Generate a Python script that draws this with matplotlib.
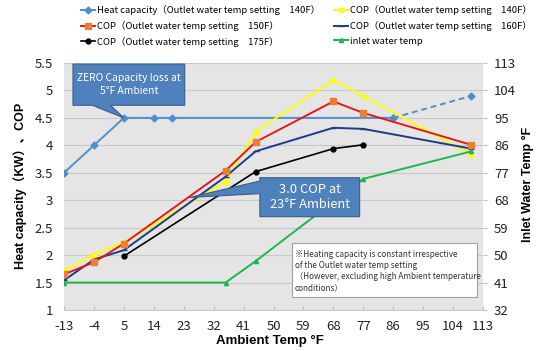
import matplotlib
matplotlib.use("Agg")
import matplotlib.pyplot as plt
from matplotlib.patches import Polygon, Rectangle

plt.rcParams['font.family'] = ['Noto Sans CJK JP', 'DejaVu Sans']
BOLD = ['Liberation Sans', 'Noto Sans CJK JP', 'DejaVu Sans']

# ---- data ----
x_ticks = [-13, -4, 5, 14, 23, 32, 41, 50, 59, 68, 77, 86, 95, 104, 113]
left_ticks = [1, 1.5, 2, 2.5, 3, 3.5, 4, 4.5, 5, 5.5]
left_tick_labels = ['1', '1.5', '2', '2.5', '3', '3.5', '4', '4.5', '5', '5.5']
right_ticks = [32, 41, 50, 59, 68, 77, 86, 95, 104, 113]

hc_x = [-13, -4, 5, 14, 19.4, 86]
hc_y = [3.5, 4.0, 4.5, 4.5, 4.5, 4.5]
hc_dash_x = [86, 109.4]
hc_dash_y = [4.5, 4.9]

cop140_x = [-13, -4, 5, 35.6, 44.6, 68, 77, 109.4]
cop140_y = [1.72, 2.01, 2.23, 3.34, 4.25, 5.19, 4.90, 3.83]

cop150_x = [-13, -4, 5, 35.6, 44.6, 68, 77, 109.4]
cop150_y = [1.65, 1.87, 2.21, 3.54, 4.06, 4.80, 4.59, 4.01]

cop160_x = [-13, -4, 5, 35.6, 44.6, 68, 77, 109.4]
cop160_y = [1.54, 1.92, 2.09, 3.43, 3.89, 4.32, 4.30, 3.94]

cop175_x = [5, 44.6, 68, 77]
cop175_y = [1.98, 3.52, 3.94, 4.01]

inlet_x = [-13, 35.6, 44.6, 77, 109.4]
inlet_y = [41, 41, 48, 75, 84]

labels = ["Heat capacity（Outlet water temp setting　140F）",
          "COP（Outlet water temp setting　140F）",
          "COP（Outlet water temp setting　150F）",
          "COP（Outlet water temp setting　160F）",
          "COP（Outlet water temp setting　175F）",
          "inlet water temp"]

c_hc = '#4f8fd0'
c_140 = '#ffff00'
c_150 = '#e3191c'
c_150m = '#ed7d31'
c_160 = '#1f3a8a'
c_175 = '#000000'
c_in = '#1db64f'

fig = plt.figure(figsize=(5.5, 3.51), dpi=100)
ax = fig.add_axes([64/550, 1-310/351, (483-64)/550, (310-63)/351])
ax.set_facecolor('#e5e5e5')
ax.set_xlim(-13, 113)
ax.set_ylim(1, 5.5)
ax.set_yticks(left_ticks)
ax.set_yticklabels(left_tick_labels)
ax.set_xticks(x_ticks)
ax.set_xticklabels([str(v) for v in x_ticks])
ax.grid(axis='y', color='#c9c9c9', lw=0.8)
ax.set_axisbelow(True)
for s in ['top', 'right', 'left']:
    ax.spines[s].set_visible(False)
ax.spines['bottom'].set_color('#c9c9c9')
ax.tick_params(axis='x', length=3, direction='in', color='#c0c0c0', labelsize=9.5, pad=7,
               labelcolor='#222222')
ax.tick_params(axis='y', length=0, labelsize=9.5, pad=8, labelcolor='#222222')

ax2 = ax.twinx()
ax2.set_ylim(32, 113)
ax2.set_yticks(right_ticks)
ax2.set_yticklabels([str(v) for v in right_ticks])
for s in ['top', 'right', 'left', 'bottom']:
    ax2.spines[s].set_visible(False)
ax2.tick_params(axis='y', length=3, color='#c0c0c0', labelsize=9.5, pad=5, labelcolor='#222222')

# series
h_hc, = ax.plot(hc_x, hc_y, color=c_hc, lw=1.4, marker='D', ms=3.5, zorder=3)
ax.plot(hc_dash_x, hc_dash_y, color=c_hc, lw=1.4, ls=(0, (3, 2)), marker='D', ms=3.5, zorder=3)
h_140, = ax.plot(cop140_x, cop140_y, color=c_140, lw=1.4, marker='s', ms=3, zorder=4)
h_150, = ax.plot(cop150_x, cop150_y, color=c_150, lw=1.4, marker='s', ms=4.5,
                 mfc=c_150m, mec=c_150m, zorder=5)
h_160, = ax.plot(cop160_x, cop160_y, color=c_160, lw=1.4, marker='_', ms=4, zorder=4)
h_175, = ax.plot(cop175_x, cop175_y, color=c_175, lw=1.2, marker='o', ms=3.5, zorder=4)
h_in, = ax2.plot(inlet_x, inlet_y, color=c_in, lw=1.4, marker='^', ms=3, zorder=4)

# axis labels
fig.text(20/550, 1-186/351, "Heat capacity（KW）、COP", rotation=90, ha='center', va='center',
         fontsize=9, fontweight='bold', family=BOLD)
fig.text(528/550, 1-184/351, "Inlet Water Temp °F", rotation=90, ha='center', va='center',
         fontsize=9, fontweight='bold', family=BOLD)
fig.text(270/550, 1-341/351, "Ambient Temp °F", ha='center', va='center',
         fontsize=9.5, fontweight='bold', family=BOLD)

# legend
handles = [h_hc, h_150, h_175, h_140, h_160, h_in]
leg_labels = [labels[0], labels[2], labels[4], labels[1], labels[3], labels[5]]
fig.legend(handles, leg_labels, ncol=2, loc='upper left', bbox_to_anchor=(76/550, 1.0),
           frameon=False, fontsize=6.8, handlelength=1.5, handletextpad=0.15,
           columnspacing=1.5, labelspacing=0.6, borderaxespad=0.15)

# callout 1 (drawn on top axes, in left-axis data coordinates)
box_c = '#4f81bd'
edge_c = '#385d8a'
ax2.add_patch(Polygon([(-10.3, 4.73), (-10.3, 5.48), (23.3, 5.48), (23.3, 4.73),
                       (1.0, 4.73), (5, 4.5), (-4.5, 4.73)], closed=True,
                      transform=ax.transData, facecolor=box_c, edgecolor=edge_c,
                      lw=0.8, zorder=6))
ax2.text(6.5, 5.11, "ZERO Capacity loss at\n5°F Ambient", ha='center', va='center',
         transform=ax.transData, color='white', fontsize=7.4, linespacing=1.3, zorder=7)

# callout 2
ax2.add_patch(Polygon([(45.9, 3.41), (75.9, 3.41), (75.9, 2.70), (45.9, 2.70),
                       (45.9, 3.12), (24.8, 3.05), (45.9, 3.35)], closed=True,
                      transform=ax.transData, facecolor=box_c, edgecolor=edge_c,
                      lw=0.8, zorder=6))
ax2.text(60.9, 3.055, "3.0 COP at\n23°F Ambient", ha='center', va='center',
         transform=ax.transData, color='white', fontsize=9.3, linespacing=1.15, zorder=7)

# note box
fig.patches.append(Rectangle((292/550, 1-297/351), (477-292)/550, (297-243)/351,
                             transform=fig.transFigure, facecolor='white',
                             edgecolor='#a0a0a0', lw=0.8, zorder=6))
fig.text(295/550, 1-271/351,
         "※Heating capacity is constant irrespective\nof the Outlet water temp setting\n（However, excluding high Ambient temperature\nconditions）",
         ha='left', va='center', fontsize=5.9, linespacing=1.3, color='#333333', zorder=7)

fig.savefig("out.png", dpi=100)
